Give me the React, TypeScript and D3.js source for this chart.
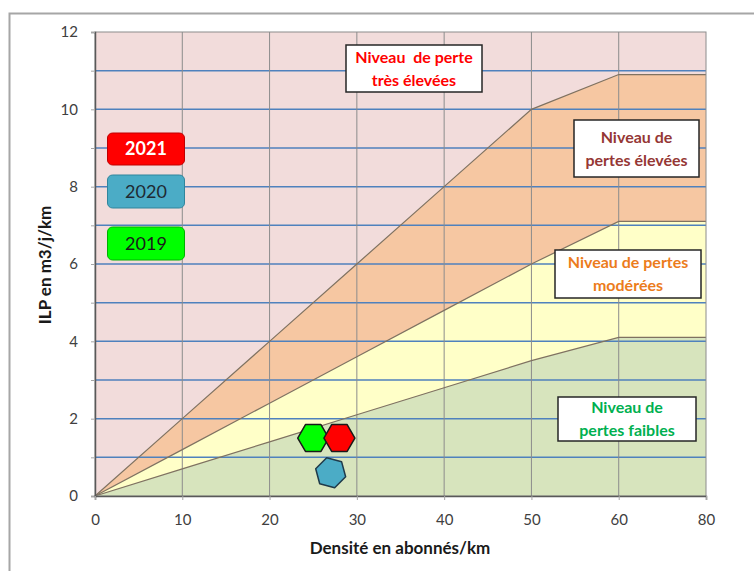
import { useEffect, useRef } from 'react';
import * as d3 from 'd3';

// catégories de l'axe X (axe de catégories : 60 puis 80)
const categories = ['0', '10', '20', '30', '40', '50', '60', '80'];
// limites des niveaux de pertes (ILP en m3/j/km)
const limiteFaible = [0, 0.7, 1.4, 2.1, 2.8, 3.5, 4.1, 4.1];
const limiteModeree = [0, 1.2, 2.4, 3.6, 4.8, 6.0, 7.1, 7.1];
const limiteElevee = [0, 2, 4, 6, 8, 10, 10.9, 10.9];
const yTicks = [0, 2, 4, 6, 8, 10, 12];
const yGrid = [1, 2, 3, 4, 5, 6, 7, 8, 9, 10, 11];

// points annuels (densité, ILP)
const annees = ['2019', '2021', '2020'];
const densites = [25, 28, 27];
const ilps = [1.5, 1.5, 0.6];

const legendeAnnees = ['2021', '2020', '2019'];

const niveaux = [
  ['Niveau  de perte', 'très élevées'],
  ['Niveau de', 'pertes élevées'],
  ['Niveau de pertes', 'modérées'],
  ['Niveau de', 'pertes faibles'],
];

const couleurAnnee: Record<string, string> = { '2021': '#ff0000', '2020': '#4bacc6', '2019': '#00ff00' };
const bordAnnee: Record<string, string> = { '2021': '#c00000', '2020': '#31859c', '2019': '#00b000' };
const texteAnnee: Record<string, string> = { '2021': '#ffffff', '2020': '#1f2a33', '2019': '#1a1a1a' };

export default function App() {
  const svgRef = useRef<SVGSVGElement>(null);

  useEffect(() => {
    if (!svgRef.current) return;
    const font = 'Lato, "Open Sans", sans-serif';
    const left = 95, right = 706, top = 32, bottom = 496;

    const svg = d3.select(svgRef.current);
    svg.selectAll('*').remove();

    // cadre du graphique
    svg.append('rect')
      .attr('x', 9.5).attr('y', 13.5).attr('width', 760).attr('height', 600)
      .attr('fill', '#fff').attr('stroke', '#a6a6a6').attr('stroke-width', 2);

    const x = d3.scalePoint().domain(categories).range([left, right]);
    const xNum = d3.scaleLinear().domain([0, 60]).range([x('0') as number, x('60') as number]);
    const y = d3.scaleLinear().domain([0, 12]).range([bottom, top]);

    const g = svg.append('g');

    g.append('rect')
      .attr('x', left).attr('y', top).attr('width', right - left).attr('height', bottom - top)
      .attr('fill', '#f2dcdb');

    const idx = categories.map((_, i) => i);
    const px = (i: number) => x(categories[i]) as number;

    const bands = [
      { lo: limiteModeree, hi: limiteElevee, fill: '#f6c7a2' },
      { lo: limiteFaible, hi: limiteModeree, fill: '#ffffc8' },
      { lo: idx.map(() => 0), hi: limiteFaible, fill: '#d7e4bd' },
    ];
    bands.forEach(b => {
      const area = d3.area<number>()
        .x(i => px(i))
        .y0(i => y(b.lo[i]))
        .y1(i => y(b.hi[i]));
      g.append('path').attr('d', area(idx) as string).attr('fill', b.fill);
    });

    // quadrillage horizontal
    g.selectAll('.hgrid')
      .data(yGrid)
      .enter()
      .append('line')
      .attr('x1', left).attr('x2', right)
      .attr('y1', d => y(d)).attr('y2', d => y(d))
      .attr('stroke', '#4f81bd').attr('stroke-width', 1.5);

    // quadrillage vertical
    g.selectAll('.vgrid')
      .data(categories.slice(1, -1))
      .enter()
      .append('line')
      .attr('x1', d => x(d) as number).attr('x2', d => x(d) as number)
      .attr('y1', top).attr('y2', bottom)
      .attr('stroke', '#8c8c8c').attr('stroke-width', 1);

    // limites
    [limiteFaible, limiteModeree, limiteElevee].forEach(lim => {
      const line = d3.line<number>().x(i => px(i)).y(i => y(lim[i]));
      g.append('path').attr('d', line(idx) as string)
        .attr('fill', 'none').attr('stroke', '#7f7261').attr('stroke-width', 1.2);
    });

    // bordure zone de tracé
    g.append('rect')
      .attr('x', left).attr('y', top).attr('width', right - left).attr('height', bottom - top)
      .attr('fill', 'none').attr('stroke', '#8c8c8c').attr('stroke-width', 1);

    // axes
    const yAxis = g.append('g')
      .attr('transform', `translate(${left},0)`)
      .call(d3.axisLeft(y).tickValues(d3.range(0, 13)).tickSize(4).tickFormat(d => (yTicks.includes(d as number) ? String(d) : '')));
    yAxis.select('.domain').attr('stroke', '#595959').attr('stroke-width', 1.5);
    yAxis.selectAll('.tick line').attr('stroke', '#a6a6a6');
    yAxis.selectAll('text')
      .attr('x', -17)
      .style('font-family', font).style('font-size', '15px').attr('fill', '#404040');

    const xAxis = g.append('g')
      .attr('transform', `translate(0,${bottom})`)
      .call(d3.axisBottom(x).tickSize(4).tickPadding(14));
    xAxis.select('.domain').attr('stroke', '#595959').attr('stroke-width', 1.5);
    xAxis.selectAll('.tick line').attr('stroke', '#a6a6a6');
    xAxis.selectAll('text')
      .style('font-family', font).style('font-size', '15px').attr('fill', '#404040');

    // titres des axes
    svg.append('text')
      .attr('transform', 'rotate(-90)')
      .attr('x', -265).attr('y', 51)
      .attr('text-anchor', 'middle')
      .style('font-family', font).style('font-size', '17px').style('font-weight', 'bold')
      .attr('fill', '#1a1a1a')
      .text('ILP en m3/j/km');

    svg.append('text')
      .attr('x', 400).attr('y', 554)
      .attr('text-anchor', 'middle')
      .style('font-family', font).style('font-size', '17px').style('font-weight', 'bold')
      .attr('fill', '#1a1a1a')
      .text('Densité en abonnés/km');

    // étiquettes des niveaux
    const boites = [
      { x: 346, y: 45, w: 136, h: 47, color: '#ff0000' },
      { x: 574, y: 120, w: 125, h: 57, color: '#953735' },
      { x: 555, y: 250, w: 146, h: 48, color: '#ec7c1c' },
      { x: 558, y: 397, w: 138, h: 44, color: '#00b050' },
    ];
    niveaux.forEach((lines, i) => {
      const b = boites[i];
      svg.append('rect')
        .attr('x', b.x).attr('y', b.y).attr('width', b.w).attr('height', b.h)
        .attr('fill', '#fff').attr('stroke', '#262626').attr('stroke-width', 1.5);
      lines.forEach((t, j) => {
        svg.append('text')
          .attr('x', b.x + b.w / 2)
          .attr('y', b.y + b.h / 2 + (j === 0 ? -11.5 : 11.5))
          .attr('dy', '0.35em')
          .attr('text-anchor', 'middle')
          .attr('xml:space', 'preserve')
          .style('white-space', 'pre')
          .style('font-family', font).style('font-size', '16px').style('font-weight', 'bold')
          .attr('fill', b.color)
          .text(t);
      });
    });

    // légende des années
    const legY: Record<string, number> = { '2021': 133, '2020': 175, '2019': 227 };
    legendeAnnees.forEach(a => {
      const h = a === '2021' ? 32 : 33;
      svg.append('rect')
        .attr('x', 107.5).attr('y', legY[a]).attr('width', 77).attr('height', h)
        .attr('rx', 5)
        .attr('fill', couleurAnnee[a]).attr('stroke', bordAnnee[a]).attr('stroke-width', 1);
      svg.append('text')
        .attr('x', 146).attr('y', legY[a] + h / 2).attr('dy', '0.35em')
        .attr('text-anchor', 'middle')
        .style('font-family', font).style('font-size', '18px')
        .style('font-weight', a === '2021' ? 'bold' : 'normal')
        .attr('fill', texteAnnee[a])
        .text(a);
    });

    // hexagones
    const hexagone = (cx: number, cy: number, r: number, rot: number) =>
      d3.range(6).map(k => {
        const ang = (Math.PI / 3) * k + rot;
        return [cx + r * Math.cos(ang), cy + r * Math.sin(ang)];
      });
    annees.forEach((a, i) => {
      const rot = a === '2020' ? (Math.PI / 180) * 75 : 0;
      const pts = hexagone(xNum(densites[i]), y(ilps[i]), 15.5, rot);
      svg.append('path')
        .attr('d', 'M' + pts.map(p => p.join(',')).join('L') + 'Z')
        .attr('fill', couleurAnnee[a])
        .attr('stroke', a === '2020' ? '#1f3a4a' : '#1a1a1a')
        .attr('stroke-width', 1.5)
        .attr('stroke-linejoin', 'round');
    });
  }, []);

  return (
    <svg
      ref={svgRef}
      width={754}
      height={571}
      style={{ position: 'absolute', left: 0, top: 0, background: '#fff' }}
    />
  );
}
